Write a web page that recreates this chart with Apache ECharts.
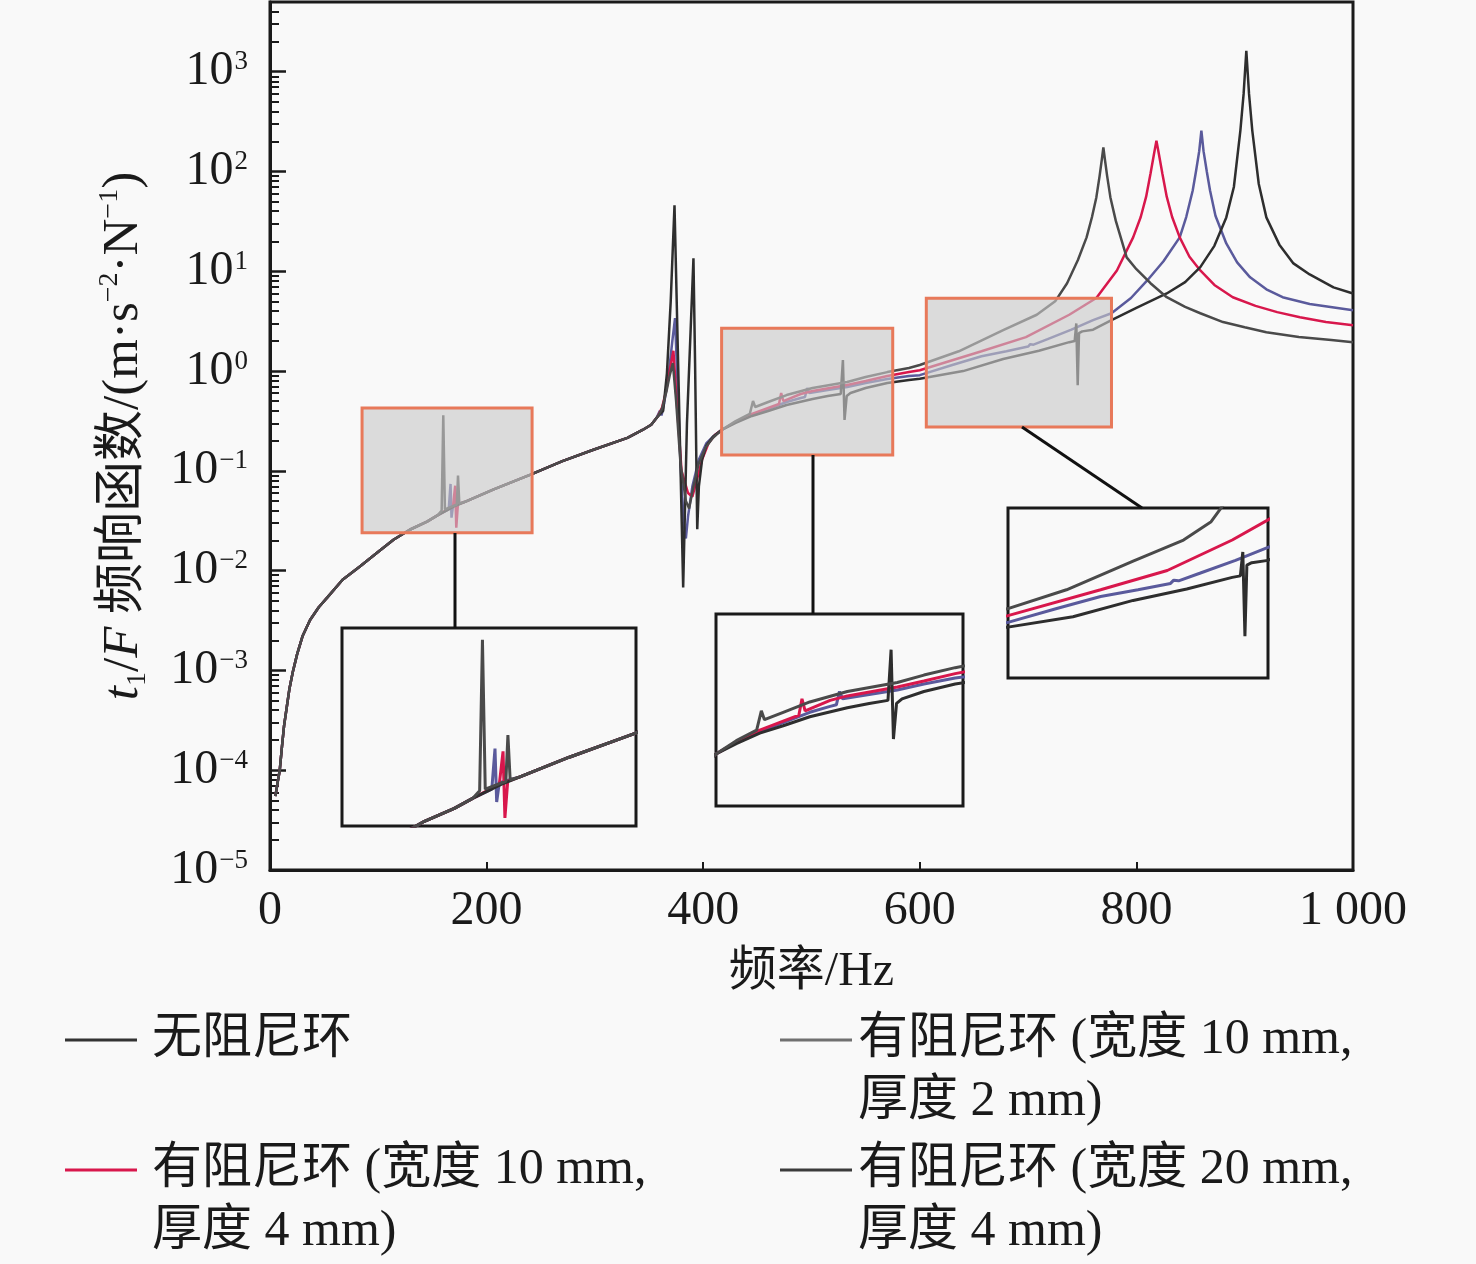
<!DOCTYPE html>
<html>
<head>
<meta charset="utf-8">
<title>t1/F 频响函数</title>
<script src="https://cdn.jsdelivr.net/npm/echarts@6/dist/echarts.min.js"></script>
<style>
  html, body { margin: 0; padding: 0; background: #f9f9f9; }
  #main { width: 1476px; height: 1264px; }
</style>
</head>
<body>
<div id="main"></div>
<script>
// 频率 [Hz], 响应 (m·s^-2·N^-1)
// 所有曲线共用的低频段
const baseLow = [[5,5.5e-5],[7,7.5e-5],[9,1.0e-4],[11,1.7e-4],[13,2.8e-4],[15.5,4.3e-4],[18,6.6e-4],[21,9.6e-4],[25,1.45e-3],[30,2.2e-3],[37,3.2e-3],[45,4.3e-3],[53,5.4e-3],[67,8.1e-3],[83,0.011],[100,0.0155],[114,0.0204],[129,0.0257],[145,0.031],[155,0.036]];
const baseMid = [[180,0.049],[206,0.065],[240,0.091],[270,0.125],[298,0.162],[330,0.214],[344,0.257],[352,0.29]];

// 无阻尼环
const lowD = [[170,0.044]];
const resD = [[358,0.35],[363,0.40],[366.5,0.95],[370,5],[373.5,46],[378.5,0.2],[381.5,0.0068],[385,0.3],[391,13.5],[392.5,1.2],[394.5,0.026],[396,0.07],[399,0.13],[403,0.18],[409,0.22],[417,0.257]];
const midD = [[430,0.302],[445,0.355],[460,0.398],[477,0.457],[501,0.525],[515,0.562],[527,0.589],[529,1.29],[530.5,0.324],[532.5,0.562],[536,0.603],[550,0.676],[570,0.759],[590,0.813]];
const highD = [[600,0.84],[640,1.0],[677,1.32],[710,1.6],[738,1.95],[743,2.0],[744.5,3.0],[745.8,0.72],[747,2.4],[750,2.5],[760,2.6],[777,3.24],[800,4.3],[828,6.0],[845,7.8],[859,11],[872,18],[883,34.7],[890,70],[896,257],[899,600],[901.5,1620],[904,600],[907,257],[913,75],[920,34.7],[932,18.5],[945,12],[960,9.3],[982,6.9],[1000,6.0]];

// 宽度 10 mm, 厚度 2 mm
const lowC = [[165,0.041],[166.7,0.074],[167.6,0.034],[169,0.045]];
const resC = [[357,0.34],[360,0.40],[361.5,0.36],[364,0.48],[368,0.9],[371.5,2.0],[374,3.4],[376,0.9],[379,0.12],[382,0.03],[384,0.021],[386,0.035],[390,0.07],[396,0.13],[403,0.19],[410,0.225],[417,0.257]];
const midC = [[430,0.309],[445,0.363],[460,0.417],[477,0.490],[490,0.537],[494,0.550],[496,0.676],[498,0.603],[515,0.646],[533,0.692],[550,0.759],[570,0.832],[590,0.891]];
const highC = [[600,0.91],[630,1.15],[657,1.41],[680,1.58],[700,1.76],[702,1.86],[705,1.84],[718,2.09],[740,2.6],[760,3.24],[777,3.8],[795,5.4],[810,8.1],[825,12.6],[840,21.9],[846,35],[852,64.6],[855,100],[858,160],[860,257],[862,160],[865,100],[868,64.6],[873,36],[883,19],[893,12.3],[905,8.7],[920,6.6],[935,5.5],[960,4.7],[1000,4.07]];

// 宽度 10 mm, 厚度 4 mm
const lowB = [[169,0.044],[171,0.071],[172,0.027],[173.5,0.046]];
const resB = [[358,0.35],[362,0.43],[366,0.65],[369,1.0],[372.5,1.6],[375.5,0.5],[380,0.1],[386,0.06],[390,0.055],[394,0.08],[399,0.13],[405,0.19],[411,0.23],[417,0.257]];
const midB = [[430,0.309],[445,0.372],[460,0.427],[470,0.468],[472,0.603],[474,0.501],[490,0.589],[501,0.631],[533,0.724],[550,0.794],[570,0.891],[590,0.977]];
const highB = [[600,1.02],[657,1.58],[698,2.19],[738,3.67],[763,5.4],[782,10.2],[797,21.9],[804,35],[809,56],[813,95],[816,145],[818.5,204],[821,145],[824,95],[828,56],[833,35],[840,21.9],[849,14],[859,10.2],[872,7.3],[889,5.5],[910,4.5],[930,3.9],[951,3.47],[975,3.1],[1000,2.88]];

// 宽度 20 mm, 厚度 4 mm
const lowA = [[158.5,0.040],[160,0.36],[161.5,0.041],[166,0.043],[172.5,0.046],[173.6,0.09],[174.8,0.047]];
const resA = [[358,0.35],[362,0.42],[366,0.62],[369,0.9],[372,1.2],[375,0.5],[379,0.12],[384,0.05],[387,0.042],[391,0.07],[396,0.12],[402,0.17],[409,0.215],[417,0.257]];
const midA = [[430,0.316],[443,0.372],[446,0.501],[448,0.437],[460,0.490],[477,0.575],[501,0.676],[533,0.776],[550,0.871],[570,0.977],[590,1.072]];
const highA = [[600,1.15],[636,1.58],[677,2.57],[708,3.67],[725,5.0],[736,7.6],[746,13],[754,21.9],[759,35],[763,55],[766,90],[768,130],[769.5,174],[771,130],[773,90],[776,55],[781,32],[791,13.8],[800,10.5],[813,7.6],[828,5.5],[845,4.4],[859,3.8],[880,3.1],[900,2.75],[920,2.45],[950,2.2],[980,2.05],[1000,1.95]];

const names = ['无阻尼环', '有阻尼环 (宽度 10 mm, 厚度 2 mm)', '有阻尼环 (宽度 10 mm, 厚度 4 mm)', '有阻尼环 (宽度 20 mm, 厚度 4 mm)'];
const yMajor = [1e-5, 1e-4, 1e-3, 1e-2, 1e-1, 1, 10, 100, 1000];
const yMinor = [];
for (let e = -5; e <= 3; e++) {
  for (let k = 2; k <= 9; k++) yMinor.push(+(k * Math.pow(10, e)).toPrecision(3));
}

// 放大框 [fmin, fmax, ymin, ymax]
const boxRanges = [[85, 242, 0.024, 0.427], [417, 575, 0.144, 2.69], [606, 777, 0.275, 5.37]];
const insetRanges = [[85, 242, 0.024, 0.427], [417, 575, 0.115, 2.24], [600, 760, 0.355, 6.31]];

const curves = {
  D: baseLow.concat(lowD, baseMid, resD, midD, highD),
  C: baseLow.concat(lowC, baseMid, resC, midC, highC),
  B: baseLow.concat(lowB, baseMid, resB, midB, highB),
  A: baseLow.concat(lowA, baseMid, resA, midA, highA)
};
const colors = { D: '#2e2e2e', C: '#5a5a9c', B: '#d8174c', A: '#4a4a4a' };
const seriesName = { D: names[0], C: names[1], B: names[2], A: names[3] };
const drawOrder = ['C', 'B', 'D', 'A'];

const FONT = "'Liberation Serif', 'Noto Sans CJK SC', serif";
const ink = '#1a1a1a';

const chart = echarts.init(document.getElementById('main'), null, { renderer: 'canvas' });

const grids = [{ left: 270, right: 123, top: 2, bottom: 394, show: true, borderColor: ink, borderWidth: 3, backgroundColor: 'transparent' }];
const insetBoxes = [[342, 628, 294, 198], [716, 614, 247, 192], [1008, 508, 260, 170]];
insetBoxes.forEach(function (b) {
  grids.push({ left: b[0], top: b[1], width: b[2], height: b[3], show: true, borderColor: ink, borderWidth: 3, backgroundColor: '#f9f9f9' });
});

const xAxes = [{
  type: 'value', gridIndex: 0, min: 0, max: 1000, interval: 200,
  name: '频率/Hz', nameLocation: 'middle', nameGap: 78,
  nameTextStyle: { fontFamily: FONT, fontSize: 48, color: ink },
  axisLine: { lineStyle: { color: ink, width: 3 } },
  axisTick: { inside: true, length: 8, lineStyle: { color: ink, width: 2 } },
  axisLabel: { margin: 17, fontFamily: FONT, fontSize: 48, color: ink,
    formatter: function (v) { return v === 1000 ? '1 000' : String(v); } },
  splitLine: { show: false }
}];
const yAxes = [{
  type: 'log', gridIndex: 0, min: 1e-5, max: 5000, logBase: 10,
  name: '{i|t}{sub|1}{n|/}{i|F}{n| 频响函数/(m·s}{sup|−2}{n|·N}{sup|−1}{n|)}',
  nameLocation: 'middle', nameGap: 118, nameRotate: 90,
  nameTextStyle: {
    color: ink,
    rich: {
      n: { fontFamily: FONT, fontSize: 51, lineHeight: 56, color: ink },
      i: { fontFamily: FONT, fontSize: 51, lineHeight: 56, fontStyle: 'italic', color: ink },
      sub: { fontFamily: FONT, fontSize: 28, lineHeight: 28, verticalAlign: 'bottom', color: ink },
      sup: { fontFamily: FONT, fontSize: 28, lineHeight: 28, verticalAlign: 'top', color: ink }
    }
  },
  axisLine: { lineStyle: { color: ink, width: 3 } },
  axisTick: { inside: true, length: 16, customValues: yMajor, lineStyle: { color: ink, width: 2.5 } },
  axisLabel: {
    margin: 22, customValues: yMajor,
    formatter: function (v) {
      const e = Math.round(Math.log10(v));
      return '{b|10}{s|' + (e < 0 ? '−' + (-e) : e) + '}';
    },
    rich: {
      b: { fontFamily: FONT, fontSize: 48, lineHeight: 48, color: ink },
      s: { fontFamily: FONT, fontSize: 27, lineHeight: 27, verticalAlign: 'top', color: ink, padding: [1, 0, 0, 1] }
    }
  },
  splitLine: { show: false }
}, {
  type: 'log', gridIndex: 0, min: 1e-5, max: 5000, logBase: 10, position: 'left',
  axisLine: { show: false }, axisLabel: { show: false }, splitLine: { show: false },
  axisTick: { inside: true, length: 9, customValues: yMinor, lineStyle: { color: ink, width: 2 } }
}];
insetRanges.forEach(function (r, i) {
  xAxes.push({ type: 'value', gridIndex: i + 1, min: r[0], max: r[1], show: false });
  yAxes.push({ type: 'log', gridIndex: i + 1, min: r[2], max: r[3], show: false });
});

const series = [];
drawOrder.forEach(function (k) {
  series.push({
    name: seriesName[k], type: 'line', xAxisIndex: 0, yAxisIndex: 0,
    data: curves[k], showSymbol: false, symbol: 'none',
    lineStyle: { color: colors[k], width: 2.5 }, itemStyle: { color: colors[k] }, z: 2
  });
});
insetRanges.forEach(function (r, i) {
  drawOrder.forEach(function (k) {
    series.push({
      name: seriesName[k], type: 'line', xAxisIndex: i + 1, yAxisIndex: i + 2,
      data: curves[k], showSymbol: false, symbol: 'none', clip: true,
      lineStyle: { color: colors[k], width: 3 }, itemStyle: { color: colors[k] }, z: 3
    });
  });
});
// 半透明放大区域框
series.push({
  type: 'line', xAxisIndex: 0, yAxisIndex: 0, data: [], z: 10, silent: true,
  markArea: {
    silent: true, z: 10,
    itemStyle: { color: 'rgba(200,200,200,0.62)', borderColor: '#e8795a', borderWidth: 3 },
    data: boxRanges.map(function (b) {
      return [{ xAxis: b[0], yAxis: b[2] }, { xAxis: b[1], yAxis: b[3] }];
    })
  }
});

function legendAt(name, left, top, legendColor, wrapped, gap) {
  return {
    data: [{ name: name, itemStyle: { color: legendColor } }],
    left: left, top: top, padding: 0, icon: 'rect', itemWidth: 72, itemHeight: 3,
    selectedMode: false,
    textStyle: { fontFamily: FONT, fontSize: 50, lineHeight: 62, color: ink, padding: [0, 0, 0, gap] },
    formatter: function () { return wrapped; }
  };
}

chart.setOption({
  animation: false,
  backgroundColor: '#f9f9f9',
  grid: grids,
  xAxis: xAxes,
  yAxis: yAxes,
  legend: [
    legendAt(names[0], 65, 1009, '#333333', '无阻尼环', 10),
    legendAt(names[1], 780, 947, '#707070', '\n有阻尼环 (宽度 10 mm,\n厚度 2 mm)', 1),
    legendAt(names[2], 65, 1077, '#d8174c', '\n有阻尼环 (宽度 10 mm,\n厚度 4 mm)', 10),
    legendAt(names[3], 780, 1077, '#3c3c3c', '\n有阻尼环 (宽度 20 mm,\n厚度 4 mm)', 1)
  ],
  graphic: [
    { type: 'line', z: 20, shape: { x1: 455, y1: 533, x2: 455, y2: 628 }, style: { stroke: '#111', lineWidth: 3 } },
    { type: 'line', z: 20, shape: { x1: 813, y1: 455, x2: 813, y2: 614 }, style: { stroke: '#111', lineWidth: 3 } },
    { type: 'line', z: 20, shape: { x1: 1022, y1: 427, x2: 1142, y2: 508 }, style: { stroke: '#111', lineWidth: 3 } }
  ],
  series: series
});
</script>
</body>
</html>
